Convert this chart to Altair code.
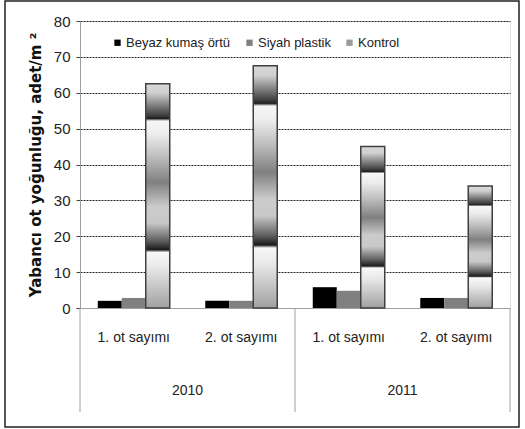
import altair as alt
import pandas as pd

# ---- data ----
yillar = ["2010", "2010", "2011", "2011"]
sayimlar = ["1. ot sayımı", "2. ot sayımı", "1. ot sayımı", "2. ot sayımı"]
seriler = ["Beyaz kumaş örtü", "Siyah plastik", "Kontrol"]
beyaz = [2, 2, 5.8, 2.8]
siyah = [2.8, 2, 4.8, 2.8]
kontrol = [62.5, 67.5, 45, 34]
y_title = "Yabancı ot yoğunluğu, adet/m ²"

gruplar = [f"{y}|{s}" for y, s in zip(yillar, sayimlar)]
rows = []
for i, g in enumerate(gruplar):
    for seri, vals in zip(seriler, [beyaz, siyah, kontrol]):
        rows.append({"grup": g, "seri": seri, "deger": vals[i]})
df = pd.DataFrame(rows)

FONT = "Liberation Sans, Arial, sans-serif"
W, H = 430, 287

gradient = {
    "gradient": "linear", "x1": 0, "x2": 0, "y1": 0, "y2": 1,
    "stops": [
        {"offset": 0.0, "color": "#d8d8d8"},
        {"offset": 0.04, "color": "#d0d0d0"},
        {"offset": 0.14, "color": "#404040"},
        {"offset": 0.155, "color": "#202020"},
        {"offset": 0.166, "color": "#f6f6f6"},
        {"offset": 0.22, "color": "#eeeeee"},
        {"offset": 0.32, "color": "#c0c0c0"},
        {"offset": 0.44, "color": "#808080"},
        {"offset": 0.55, "color": "#cccccc"},
        {"offset": 0.62, "color": "#c8c8c8"},
        {"offset": 0.70, "color": "#606060"},
        {"offset": 0.74, "color": "#1a1a1a"},
        {"offset": 0.752, "color": "#f8f8f8"},
        {"offset": 0.82, "color": "#e8e8e8"},
        {"offset": 1.0, "color": "#a0a0a0"},
    ],
}

xscale = alt.Scale(domain=gruplar, paddingInner=0, paddingOuter=0)

bars = alt.Chart(df).mark_bar().encode(
    x=alt.X("grup:N", scale=xscale, sort=gruplar,
            axis=alt.Axis(title=None, labelExpr="split(datum.label, '|')[1]",
                          labelAngle=0, ticks=False, labelPadding=22,
                          labelFont=FONT, labelFontSize=14, labelColor="#222",
                          domainColor="#a0a0a0", grid=False)),
    xOffset=alt.XOffset("seri:N", sort=seriler,
                        scale=alt.Scale(paddingInner=0, paddingOuter=0.74)),
    y=alt.Y("deger:Q", stack=None,
            scale=alt.Scale(domain=[0, 80]),
            axis=alt.Axis(title=y_title, values=list(range(0, 81, 10)),
                          titleFont="DejaVu Sans", titleFontSize=15, titleFontWeight="bold",
                          titleColor="#111", titlePadding=10,
                          labelFont=FONT, labelFontSize=15, labelColor="#222", labelPadding=6,
                          tickSize=4, tickColor="#444", domainColor="#a0a0a0",
                          gridColor={"condition": {"test": "datum.value === 0", "value": "transparent"},
                                     "value": "#222"},
                          gridDash=[2, 1])),
    fill=alt.condition(
        "datum.seri === 'Kontrol'",
        alt.value(gradient),
        alt.Fill("seri:N", sort=seriler,
                 scale=alt.Scale(domain=seriler, range=["#000000", "#808080", "#9a9a9a"]),
                 legend=alt.Legend(title=None, orient="none", legendX=31, legendY=15,
                                   direction="horizontal", columns=3, columnPadding=12,
                                   symbolType="square", symbolSize=40, symbolStrokeWidth=0,
                                   labelFont=FONT, labelFontSize=13, labelColor="#222",
                                   labelOffset=2)),
    ),
    stroke=alt.condition("datum.seri === 'Kontrol'", alt.value("#404040"), alt.value("transparent")),
    strokeWidth=alt.condition("datum.seri === 'Kontrol'", alt.value(1.5), alt.value(0)),
)

sep_df = pd.DataFrame({"grup": [gruplar[0], gruplar[2]]})
sep_end = pd.DataFrame({"grup": [gruplar[3]]})
sep1 = alt.Chart(sep_df).mark_rule(color="#a0a0a0").encode(
    x=alt.X("grup:N", scale=xscale, sort=gruplar, bandPosition=0),
    y=alt.value(H), y2=alt.value(H + 104))
sep2 = alt.Chart(sep_end).mark_rule(color="#a0a0a0").encode(
    x=alt.X("grup:N", scale=xscale, sort=gruplar, bandPosition=1),
    y=alt.value(H), y2=alt.value(H + 104))

yil_df = pd.DataFrame({"grup": [gruplar[0], gruplar[2]], "yil": [yillar[0], yillar[2]]})
years = alt.Chart(yil_df).mark_text(font=FONT, fontSize=14, color="#222", baseline="middle").encode(
    x=alt.X("grup:N", scale=xscale, sort=gruplar, bandPosition=1),
    y=alt.value(H + 83), text="yil:N")

frame = alt.Chart(alt.Data(values=[{}])).mark_rect(fill="transparent", stroke="#222", strokeWidth=1.5).encode(
    x=alt.value(-75), x2=alt.value(W + 9), y=alt.value(-20), y2=alt.value(H + 119))

chart = alt.layer(bars, sep1, sep2, years, frame).properties(
    width=W, height=H,
    autosize=alt.AutoSizeParams(type="none"),
    padding={"left": 80, "top": 21, "right": 15, "bottom": 121},
).configure_view(stroke=None).configure(background="white")

chart.save("out.html", embed_options={"renderer": "svg", "actions": False})
